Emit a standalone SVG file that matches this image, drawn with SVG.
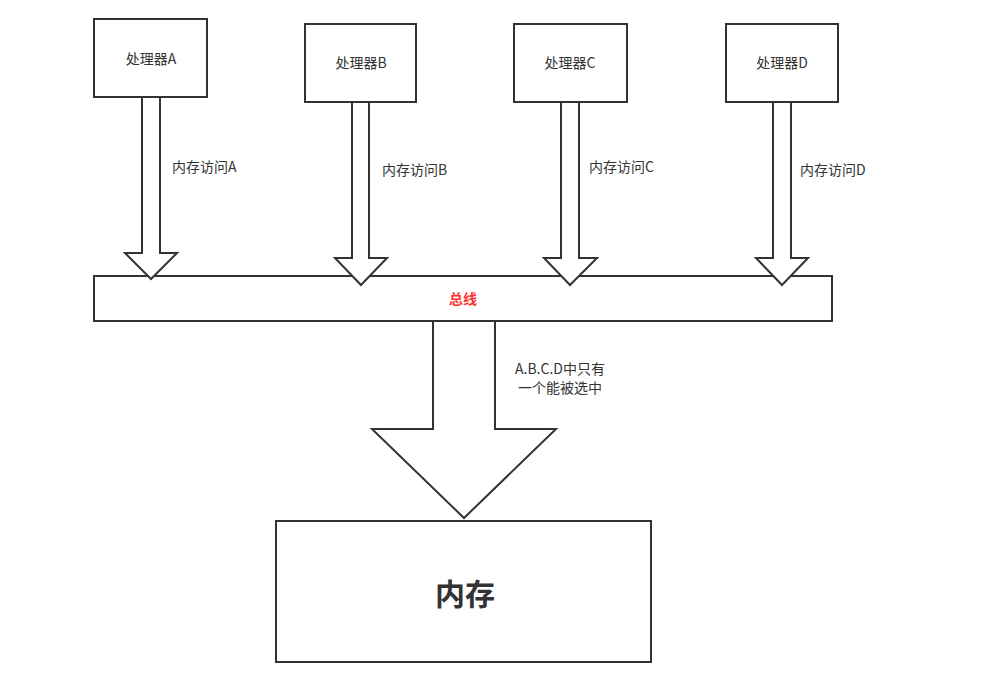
<svg xmlns="http://www.w3.org/2000/svg" width="997" height="693" viewBox="0 0 997 693">
<style>
.box{fill:#fff;stroke:#333;stroke-width:2}
.arr{fill:#fff;stroke:#333;stroke-width:2;stroke-linejoin:miter}
text{font-family:"Noto Sans CJK SC","Liberation Sans",sans-serif;fill:#333}
.t{font-size:14px;text-anchor:middle}
.l{font-size:14px}
</style>
<rect width="997" height="693" fill="#fff"/>
<g id="cpuA"><rect class="box" x="94" y="19" width="113" height="78"/><text class="t" x="151" y="64">处理器A</text></g>
<g id="cpuB"><rect class="box" x="305" y="24" width="111" height="78"/><text class="t" x="361" y="68">处理器B</text></g>
<g id="cpuC"><rect class="box" x="514" y="24" width="113" height="78"/><text class="t" x="570" y="68">处理器C</text></g>
<g id="cpuD"><rect class="box" x="726" y="24" width="112" height="78"/><text class="t" x="782" y="68">处理器D</text></g>
<g id="bus"><rect class="box" x="94" y="276" width="738" height="45"/><text class="t" x="463" y="304" style="fill:#ff3333;font-weight:bold">总线</text></g>
<g id="memory"><rect class="box" x="276" y="521" width="375" height="141"/><text x="465" y="605" style="font-size:30px;font-weight:bold;text-anchor:middle">内存</text></g>
<g id="connectors">
<polygon class="arr" points="142,97 160,97 160,253 177,253 151,279 125,253 142,253"/>
<polygon class="arr" points="352,102 369,102 369,258 387,258 361,285 335,258 352,258"/>
<polygon class="arr" points="561,102 579,102 579,258 597,258 570,285 544,258 561,258"/>
<polygon class="arr" points="773,102 791,102 791,258 808,258 782,285 756,258 773,258"/>
<polygon class="arr" points="433,321 495,321 495,429 556,429 464,518 372,429 433,429"/>
<text class="l" x="172" y="172">内存访问A</text>
<text class="l" x="382" y="175">内存访问B</text>
<text class="l" x="589" y="172">内存访问C</text>
<text class="l" x="800" y="175">内存访问D</text>
<text class="t" x="560" y="374">A.B.C.D中只有</text>
<text class="t" x="560" y="393">一个能被选中</text>
</g>
</svg>
